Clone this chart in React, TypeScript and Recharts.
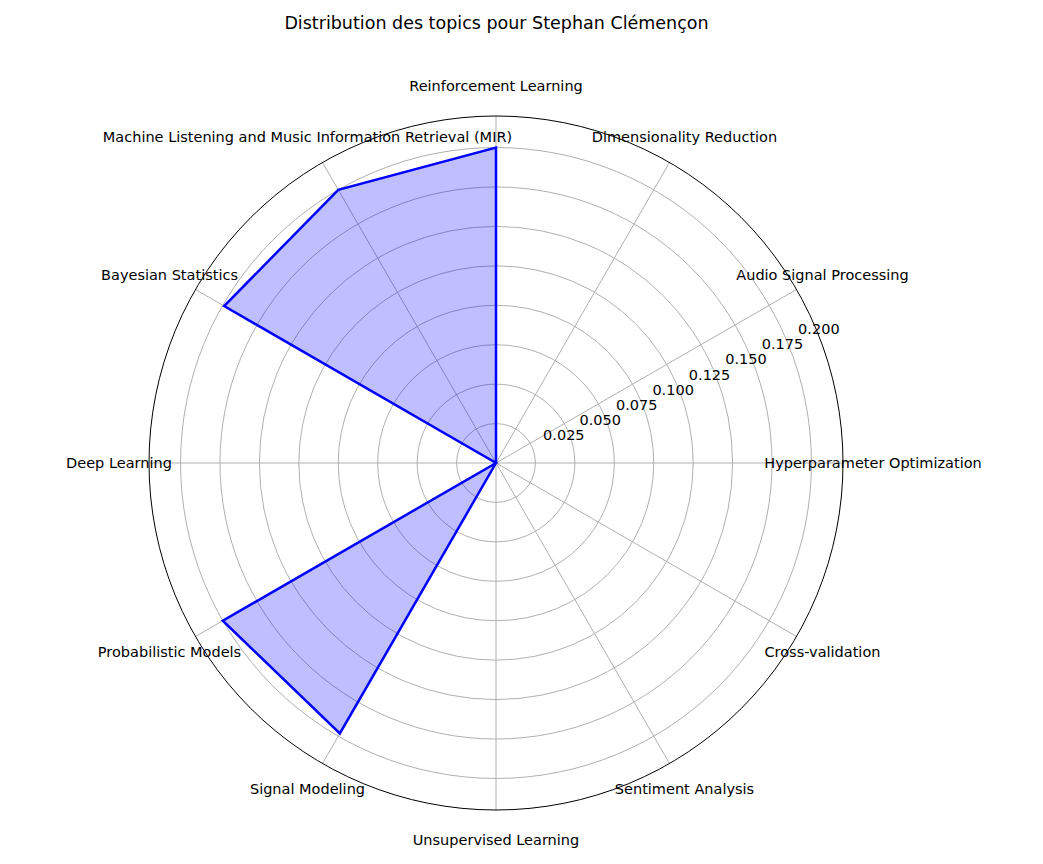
import React from 'react';
import { RadarChart, Radar, PolarGrid, PolarAngleAxis, PolarRadiusAxis } from 'recharts';

const topics = [
  'Hyperparameter Optimization',
  'Audio Signal Processing',
  'Dimensionality Reduction',
  'Reinforcement Learning',
  'Machine Listening and Music Information Retrieval (MIR)',
  'Bayesian Statistics',
  'Deep Learning',
  'Probabilistic Models',
  'Signal Modeling',
  'Unsupervised Learning',
  'Sentiment Analysis',
  'Cross-validation',
];
const weights = [0, 0.2, 0.2, 0.199, 0, 0.2, 0.198, 0, 0, 0, 0, 0];
const radiusTicks = [0.025, 0.05, 0.075, 0.1, 0.125, 0.15, 0.175, 0.2];
const rMax = 0.22;

const data = topics.map((t, i) => ({ topic: t, value: weights[i] }));

const CX = 496;
const CY = 463;
const R = 347;
const font = 'DejaVu Sans, sans-serif';

const AngleTick = (props: any) => {
  const a = (props.payload.coordinate * Math.PI) / 180;
  const x = CX + 377 * Math.cos(a);
  const y = CY - 377 * Math.sin(a);
  return (
    <text x={x} y={y} textAnchor="middle" dominantBaseline="central" fontSize={14.5} fontFamily={font} fill="#000">
      {props.payload.value}
    </text>
  );
};

const RadiusTick = (props: any) => {
  const a = (22.5 * Math.PI) / 180;
  return (
    <text
      x={props.x + 34 * Math.cos(a)}
      y={props.y - 34 * Math.sin(a)}
      textAnchor="middle"
      dominantBaseline="central"
      fontSize={14.5}
      fontFamily={font}
      fill="#000"
    >
      {Number(props.payload.value).toFixed(3)}
    </text>
  );
};

export default function App() {
  return (
    <div style={{ position: 'absolute', left: 0, top: 0, width: 1043, height: 864, background: '#fff' }}>
      <div style={{ position: 'absolute', top: 13, width: 993, textAlign: 'center', fontFamily: font, fontSize: 17.5 }}>
        Distribution des topics pour Stephan Clémençon
      </div>
      <RadarChart width={1043} height={864} data={data} cx={CX} cy={CY} outerRadius={R} startAngle={30} endAngle={390}>
        <PolarGrid
          stroke="#b0b0b0"
          strokeOpacity={1}
          gridType="circle"
          polarRadius={radiusTicks.map((v) => (R * v) / rMax)}
        />
        <PolarAngleAxis dataKey="topic" tick={<AngleTick />} axisLine={false} tickLine={false} />
        <PolarRadiusAxis
          angle={22.5}
          domain={[0, rMax]}
          ticks={radiusTicks as any}
          tick={<RadiusTick />}
          axisLine={false}
          tickLine={false}
        />
        <Radar dataKey="value" stroke="#0000ff" strokeWidth={2.5} fill="#0000ff" fillOpacity={0.25} isAnimationActive={false} />
      </RadarChart>
      <svg width={1043} height={864} style={{ position: 'absolute', left: 0, top: 0, pointerEvents: 'none' }}>
        <circle cx={CX} cy={CY} r={R} fill="none" stroke="#000" strokeWidth={1} />
      </svg>
    </div>
  );
}
